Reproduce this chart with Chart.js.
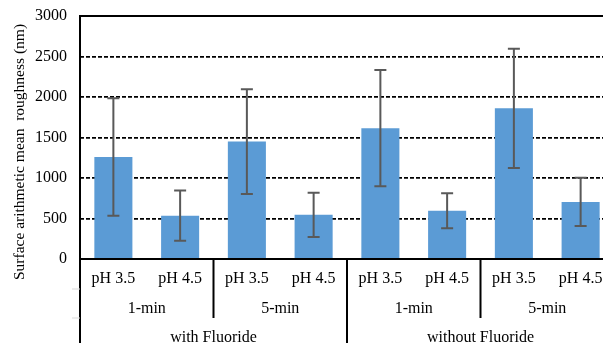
<!DOCTYPE html>
<html>
<head>
<meta charset="utf-8">
<script src="https://cdn.jsdelivr.net/npm/chart.js@4/dist/chart.umd.min.js"></script>
<style>
  html, body { margin: 0; padding: 0; background: #fff; overflow: hidden; }
  #wrap { width: 614px; height: 343px; }
</style>
</head>
<body>
<div id="wrap"><canvas id="roughChart" width="614" height="343"></canvas></div>
<script>
// Data
const phLabels = ['pH 3.5', 'pH 4.5', 'pH 3.5', 'pH 4.5', 'pH 3.5', 'pH 4.5', 'pH 3.5', 'pH 4.5'];
const timeLabels = ['1-min', '5-min', '1-min', '5-min'];
const fluorideLabels = ['with Fluoride', 'without Fluoride'];
const meanValues = [1260, 535, 1450, 545, 1615, 595, 1860, 705];
const errorValues = [725, 310, 647, 272, 718, 216, 737, 298];
const yTicks = [0, 500, 1000, 1500, 2000, 2500, 3000];

const FONT = 'Liberation Serif, Times New Roman, serif';

// Error bars drawn from the y scale
const errorBarPlugin = {
  id: 'errorBars',
  afterDatasetsDraw(chart) {
    const ctx = chart.ctx;
    const y = chart.scales.y;
    const meta = chart.getDatasetMeta(0);
    ctx.save();
    ctx.strokeStyle = '#595959';
    ctx.lineWidth = 2;
    meta.data.forEach((bar, i) => {
      const top = y.getPixelForValue(meanValues[i] + errorValues[i]);
      const bot = y.getPixelForValue(meanValues[i] - errorValues[i]);
      ctx.beginPath();
      ctx.moveTo(bar.x, top);
      ctx.lineTo(bar.x, bot);
      ctx.moveTo(bar.x - 6, top);
      ctx.lineTo(bar.x + 6, top);
      ctx.moveTo(bar.x - 6, bot);
      ctx.lineTo(bar.x + 6, bot);
      ctx.stroke();
    });
    ctx.restore();
  }
};

// Axis frame, group labels and y title
const framePlugin = {
  id: 'frame',
  afterDraw(chart) {
    const ctx = chart.ctx;
    const x = chart.scales.x;
    const area = chart.chartArea;
    const half = (x.getPixelForValue(1) - x.getPixelForValue(0)) / 2;
    const edge = i => x.getPixelForValue(i) - half;
    const H = chart.height;

    ctx.save();
    ctx.strokeStyle = '#000';
    ctx.lineWidth = 2;
    ctx.beginPath();
    // top line
    ctx.moveTo(area.left, area.top);
    ctx.lineTo(area.right, area.top);
    // bottom axis
    ctx.moveTo(area.left, area.bottom);
    ctx.lineTo(area.right, area.bottom);
    // left axis down to the bottom
    ctx.moveTo(edge(0), area.top - 1);
    ctx.lineTo(edge(0), H);
    // fluoride separator
    ctx.moveTo(edge(4), area.bottom);
    ctx.lineTo(edge(4), H);
    // time separators
    [2, 6].forEach(i => {
      ctx.moveTo(edge(i), area.bottom);
      ctx.lineTo(edge(i), area.bottom + 59);
    });
    ctx.stroke();

    // faint tick marks left of the axis
    ctx.strokeStyle = '#d9d9d9';
    ctx.lineWidth = 1;
    ctx.beginPath();
    [area.bottom + 30, area.bottom + 59].forEach(yy => {
      ctx.moveTo(area.left - 8, yy);
      ctx.lineTo(area.left, yy);
    });
    ctx.stroke();

    ctx.fillStyle = '#000';
    ctx.font = '16px ' + FONT;
    ctx.textAlign = 'center';
    ctx.textBaseline = 'alphabetic';
    timeLabels.forEach((t, i) => {
      const cx = (edge(i * 2) + edge(i * 2 + 2)) / 2;
      ctx.fillText(t, cx, area.bottom + 54);
    });
    fluorideLabels.forEach((t, i) => {
      const cx = (edge(i * 4) + edge(i * 4 + 4)) / 2;
      ctx.fillText(t, cx, area.bottom + 83);
    });

    // y axis title
    ctx.font = '15.5px ' + FONT;
    ctx.translate(24, 152);
    ctx.rotate(-Math.PI / 2);
    ctx.fillText('Surface arithmetic mean  roughness (nm)', 0, 0);
    ctx.restore();
  }
};

new Chart(document.getElementById('roughChart'), {
  type: 'bar',
  data: {
    labels: phLabels,
    datasets: [{
      data: meanValues,
      backgroundColor: '#5B9BD5',
      borderWidth: 0,
      barPercentage: 0.57,
      categoryPercentage: 1.0
    }]
  },
  options: {
    responsive: false,
    animation: false,
    layout: { padding: { top: 16, right: 0, left: 0, bottom: 0 } },
    plugins: {
      legend: { display: false },
      tooltip: { enabled: false }
    },
    scales: {
      x: {
        grid: { display: false, drawTicks: false },
        border: { display: false },
        ticks: {
          autoSkip: false,
          maxRotation: 0,
          padding: 10,
          color: '#000',
          font: { family: FONT, size: 16 }
        },
        afterFit(scale) { scale.height = 84; }
      },
      y: {
        min: 0,
        max: 3000,
        afterBuildTicks(scale) { scale.ticks = yTicks.map(v => ({ value: v })); },
        grid: {
          drawTicks: false,
          lineWidth: 1.8,
          color: ctx => (ctx.tick && (ctx.tick.value === 0 || ctx.tick.value === 3000)) ? 'rgba(0,0,0,0)' : '#000'
        },
        border: { display: false, dash: [4, 2] },
        ticks: {
          padding: 13,
          color: '#000',
          font: { family: FONT, size: 16 },
          callback: v => String(v)
        },
        afterFit(scale) {
          scale.width = 80;
          scale.paddingTop = 0;
          scale.paddingBottom = 0;
        }
      }
    }
  },
  plugins: [errorBarPlugin, framePlugin]
});
</script>
</body>
</html>
